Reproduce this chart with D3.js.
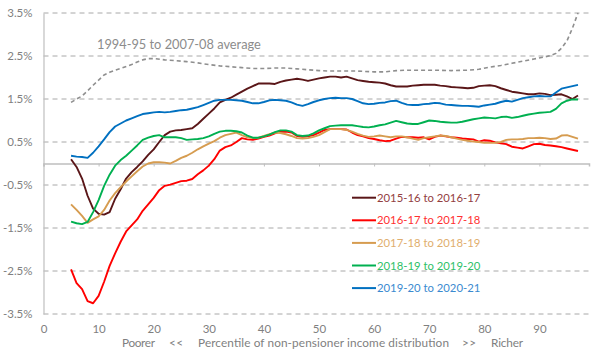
<!DOCTYPE html>
<html><head><meta charset="utf-8">
<script src="https://cdn.jsdelivr.net/npm/d3@7"></script>
<style>body{margin:0;background:#fff}svg{display:block;font-family:Lato,"Noto Sans",sans-serif}</style>
</head><body><svg id="c" width="602" height="352"></svg>
<script>
const yTicks = [3.5, 2.5, 1.5, 0.5, -0.5, -1.5, -2.5, -3.5];
const xTicks = [0, 10, 20, 30, 40, 50, 60, 70, 80, 90];
const seriesNames = ["2015-16 to 2016-17", "2016-17 to 2017-18", "2017-18 to 2018-19", "2018-19 to 2019-20", "2019-20 to 2020-21"];
const avgLabel = "1994-95 to 2007-08 average";

const avgP = [5,6,7,8,9,10,11,12,13,14,16,17,18,19,20,22,24,26,28,30,32,34,36,38,40,42,44,46,48,50,52,54,57,60,62,64,66,68,71,74,77,79,81,83,85,87,89,91,92,93,94,95,96,97];
const avgV = [1.42,1.50,1.57,1.69,1.82,1.94,2.06,2.12,2.17,2.21,2.30,2.36,2.41,2.44,2.44,2.41,2.39,2.37,2.34,2.30,2.27,2.25,2.23,2.21,2.21,2.22,2.22,2.20,2.18,2.16,2.15,2.15,2.15,2.13,2.13,2.16,2.17,2.17,2.17,2.16,2.17,2.19,2.24,2.28,2.33,2.38,2.43,2.48,2.51,2.56,2.68,2.85,3.15,3.50];

const pct = d3.range(5, 98);
const s1516 = [0.10,-0.08,-0.35,-0.75,-1.05,-1.17,-1.19,-1.13,-0.82,-0.60,-0.35,-0.20,-0.08,0.05,0.20,0.33,0.50,0.66,0.74,0.77,0.78,0.80,0.82,0.92,1.04,1.16,1.28,1.42,1.48,1.53,1.60,1.67,1.74,1.80,1.86,1.86,1.86,1.85,1.90,1.93,1.95,1.97,1.95,1.92,1.95,1.98,2.00,2.02,2.02,2.00,2.02,1.98,1.94,1.92,1.90,1.89,1.88,1.86,1.82,1.79,1.79,1.79,1.81,1.82,1.83,1.83,1.83,1.81,1.80,1.78,1.77,1.76,1.75,1.76,1.80,1.81,1.82,1.80,1.75,1.71,1.67,1.65,1.63,1.61,1.61,1.63,1.62,1.59,1.60,1.61,1.56,1.50,1.58];
const s1617 = [-2.46,-2.78,-2.92,-3.20,-3.25,-3.08,-2.75,-2.38,-2.09,-1.82,-1.58,-1.44,-1.30,-1.10,-0.95,-0.80,-0.62,-0.52,-0.49,-0.45,-0.41,-0.40,-0.36,-0.25,-0.16,-0.05,0.10,0.30,0.38,0.42,0.50,0.59,0.56,0.55,0.58,0.62,0.65,0.70,0.74,0.74,0.72,0.64,0.62,0.63,0.66,0.72,0.78,0.80,0.80,0.80,0.79,0.72,0.66,0.63,0.59,0.57,0.54,0.52,0.53,0.58,0.62,0.61,0.61,0.60,0.61,0.56,0.62,0.65,0.63,0.61,0.60,0.58,0.57,0.56,0.51,0.54,0.53,0.49,0.47,0.45,0.39,0.37,0.35,0.40,0.45,0.46,0.43,0.42,0.40,0.38,0.35,0.32,0.29];
const s1718 = [-0.95,-1.08,-1.22,-1.38,-1.30,-1.23,-1.08,-0.86,-0.69,-0.55,-0.42,-0.30,-0.18,-0.07,0.00,0.03,0.03,0.02,0.00,0.06,0.13,0.18,0.25,0.33,0.40,0.46,0.52,0.60,0.66,0.69,0.72,0.66,0.61,0.59,0.60,0.64,0.68,0.72,0.71,0.68,0.64,0.59,0.58,0.59,0.62,0.66,0.73,0.80,0.80,0.80,0.78,0.74,0.69,0.65,0.62,0.63,0.65,0.63,0.61,0.63,0.63,0.61,0.58,0.55,0.59,0.61,0.63,0.65,0.64,0.61,0.58,0.55,0.53,0.51,0.50,0.48,0.48,0.48,0.50,0.55,0.56,0.56,0.57,0.59,0.59,0.60,0.59,0.57,0.58,0.65,0.66,0.62,0.58];
const s1819 = [-1.35,-1.39,-1.41,-1.36,-1.13,-0.85,-0.52,-0.26,-0.05,0.08,0.18,0.30,0.42,0.55,0.60,0.64,0.66,0.61,0.61,0.61,0.59,0.55,0.56,0.57,0.59,0.63,0.69,0.74,0.76,0.76,0.75,0.72,0.65,0.60,0.60,0.63,0.67,0.73,0.77,0.77,0.74,0.66,0.64,0.65,0.70,0.77,0.82,0.87,0.88,0.89,0.89,0.89,0.87,0.85,0.84,0.86,0.89,0.91,0.95,0.99,0.96,0.93,0.92,0.92,0.96,1.00,0.99,0.97,0.96,0.95,0.95,0.97,1.00,1.03,1.05,1.07,1.06,1.05,1.08,1.09,1.06,1.08,1.11,1.14,1.16,1.18,1.19,1.20,1.27,1.40,1.46,1.49,1.49];
const s1920 = [0.18,0.16,0.15,0.13,0.25,0.40,0.56,0.73,0.86,0.93,1.00,1.05,1.10,1.15,1.17,1.19,1.20,1.19,1.20,1.22,1.24,1.25,1.28,1.31,1.36,1.41,1.46,1.48,1.48,1.48,1.47,1.46,1.43,1.40,1.40,1.43,1.47,1.48,1.47,1.46,1.42,1.37,1.34,1.38,1.43,1.47,1.50,1.52,1.53,1.52,1.52,1.50,1.45,1.40,1.38,1.39,1.41,1.42,1.45,1.46,1.41,1.37,1.36,1.36,1.38,1.39,1.41,1.40,1.37,1.36,1.35,1.34,1.34,1.33,1.32,1.35,1.37,1.39,1.43,1.46,1.44,1.48,1.52,1.54,1.56,1.57,1.56,1.56,1.65,1.74,1.77,1.80,1.83];

const lineColors = ["#5a1618", "#ff0000", "#d69c50", "#00b050", "#0070c0"];
const textColors = ["#93403f", "#ff3030", "#dfae6e", "#2fbf68", "#3a8ad0"];

const svg = d3.select("#c");
const x = d3.scaleLinear().domain([0, 99]).range([43.5, 589]);
const y = d3.scaleLinear().domain([-3.5, 3.5]).range([314, 13]);

// grid
svg.append("g").selectAll("line").data(yTicks).join("line")
  .attr("x1", x(0)).attr("x2", x(99)).attr("y1", d => y(d)).attr("y2", d => y(d))
  .attr("stroke", "#a8a8a8").attr("stroke-width", 1).attr("stroke-dasharray", "5,4");

// y axis
const yAxis = d3.axisLeft(y).tickValues(yTicks).tickSize(0).tickPadding(11)
  .tickFormat(d => d.toFixed(1) + "%");
const gy = svg.append("g").attr("transform", `translate(${x(0)},0)`).call(yAxis);
gy.select(".domain").attr("stroke", "#bfbfbf").attr("stroke-width", 1.2);
gy.selectAll("text").attr("fill", "#7f7f7f").attr("font-size", "11.5px").attr("font-family", "Lato");

// x axis at zero
const xAxis = d3.axisBottom(x).tickValues(xTicks).tickSize(3).tickFormat(d3.format("d"));
const gx = svg.append("g").attr("transform", `translate(0,${y(0)})`).call(xAxis);
gx.select(".domain").attr("stroke", "#bfbfbf").attr("stroke-width", 1.5);
gx.selectAll(".tick line").attr("stroke", "#bfbfbf");
gx.selectAll(".tick text").attr("fill", "#7f7f7f").attr("font-size", "11.5px").attr("font-family", "Lato")
  .attr("y", 0).attr("dy", 0).attr("transform", `translate(0,${333 - y(0)})`);

// average dashed line
const line = d3.line().x(d => x(d[0])).y(d => y(d[1])).curve(d3.curveLinear);
svg.append("path").datum(d3.zip(avgP, avgV)).attr("d", line)
  .attr("fill", "none").attr("stroke", "#8f8f8f").attr("stroke-width", 1.6).attr("stroke-dasharray", "4,3");

// series
const all = [s1516, s1617, s1718, s1819, s1920];
all.forEach((s, i) => {
  svg.append("path").datum(d3.zip(pct, s)).attr("d", line)
    .attr("fill", "none").attr("stroke", lineColors[i]).attr("stroke-width", 1.9)
    .attr("stroke-linejoin", "round");
});

// annotation
svg.append("text").attr("x", 97).attr("y", 49).text(avgLabel)
  .attr("fill", "#8c8c8c").attr("font-size", "12.8px").attr("font-family", "Lato");

// legend
const lg = svg.append("g");
seriesNames.forEach((n, i) => {
  const yy = 197.7 + i * 22.6;
  lg.append("line").attr("x1", 352).attr("x2", 376).attr("y1", yy).attr("y2", yy)
    .attr("stroke", lineColors[i]).attr("stroke-width", 2);
  lg.append("text").attr("x", 377).attr("y", yy + 4).text(n)
    .attr("fill", textColors[i]).attr("font-size", "11.3px").attr("font-family", "Lato");
});

// x axis title pieces
const titleParts = [["Poorer", 122, 33], ["<<", 169, 14], ["Percentile of non-pensioner income distribution", 198, 251], [">>", 462, 14], ["Richer", 491, 32]];
svg.append("g").selectAll("text").data(titleParts).join("text")
  .attr("x", d => d[1]).attr("y", 347)
  .attr("textLength", d => d[2]).attr("lengthAdjust", "spacing")
  .text(d => d[0]).attr("fill", "#7f7f7f").attr("font-size", "11.8px").attr("font-family", "Lato");
</script></body></html>
